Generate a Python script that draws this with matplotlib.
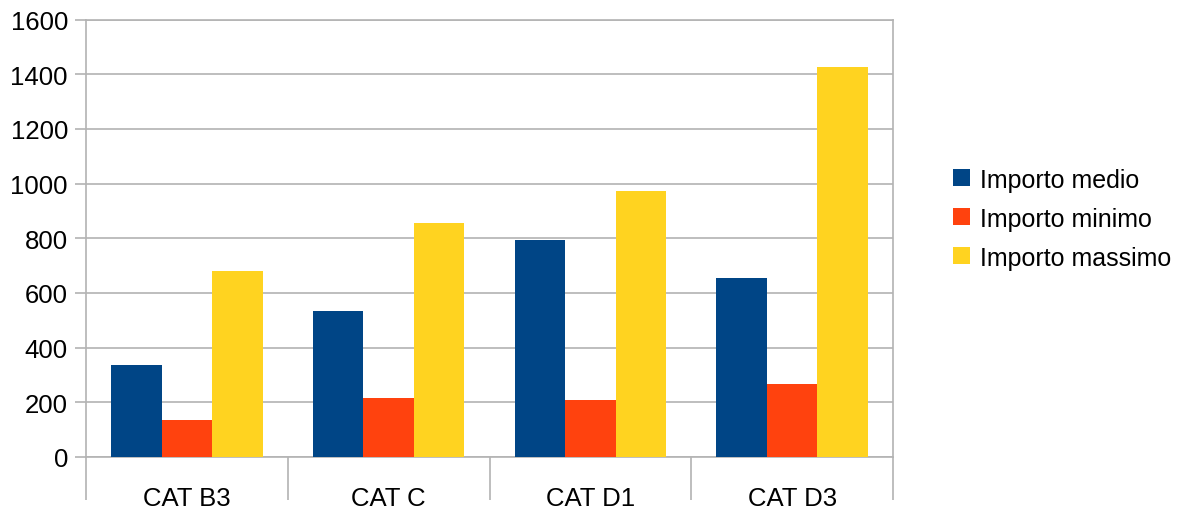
import matplotlib.pyplot as plt
import numpy as np

categories = ['CAT B3', 'CAT C', 'CAT D1', 'CAT D3']
importo_medio = [337, 535, 794, 655]
importo_minimo = [135, 216, 208, 267]
importo_massimo = [680, 857, 973, 1428]
series_names = ['Importo medio', 'Importo minimo', 'Importo massimo']
colors = ['#004586', '#ff420e', '#ffd320']

plt.rcParams['font.family'] = ['Liberation Sans', 'DejaVu Sans']

fig = plt.figure(figsize=(11.89, 5.10), dpi=100)
ax = fig.add_axes([86 / 1189, 1 - 458 / 510, (893 - 86) / 1189, (458 - 20.5) / 510])

x = np.arange(len(categories))
w = 0.25
for i, (vals, name, c) in enumerate(zip([importo_medio, importo_minimo, importo_massimo],
                                       series_names, colors)):
    ax.bar(x + (i - 1) * w, vals, w, color=c, label=name, zorder=3)

grid_c = '#b3b3b3'
ax.set_xlim(-0.5, len(categories) - 0.5)
ax.set_ylim(0, 1600)
ax.set_yticks(np.arange(0, 1601, 200))
ax.yaxis.grid(True, color=grid_c, linewidth=1.2, zorder=0)
for s in ax.spines.values():
    s.set_color(grid_c)
    s.set_linewidth(1.2)

# category separators below axis, labels centered between them
ax.set_xticks(np.arange(-0.5, len(categories), 1.0))
ax.set_xticklabels([])
ax.tick_params(axis='x', which='major', length=31, width=1.2, color=grid_c)
ax.set_xticks(x, minor=True)
ax.set_xticklabels(categories, minor=True)
ax.tick_params(axis='x', which='minor', length=0, pad=21, labelsize=18.5)
ax.tick_params(axis='y', length=8, width=1.2, color=grid_c, labelsize=18.5, pad=5)

ax.legend(loc='center left', bbox_to_anchor=(1.047, 0.545), frameon=False,
          fontsize=18, handlelength=0.65, handleheight=0.65, handletextpad=0.4,
          labelspacing=0.6)

fig.savefig('out.png', dpi=100)
